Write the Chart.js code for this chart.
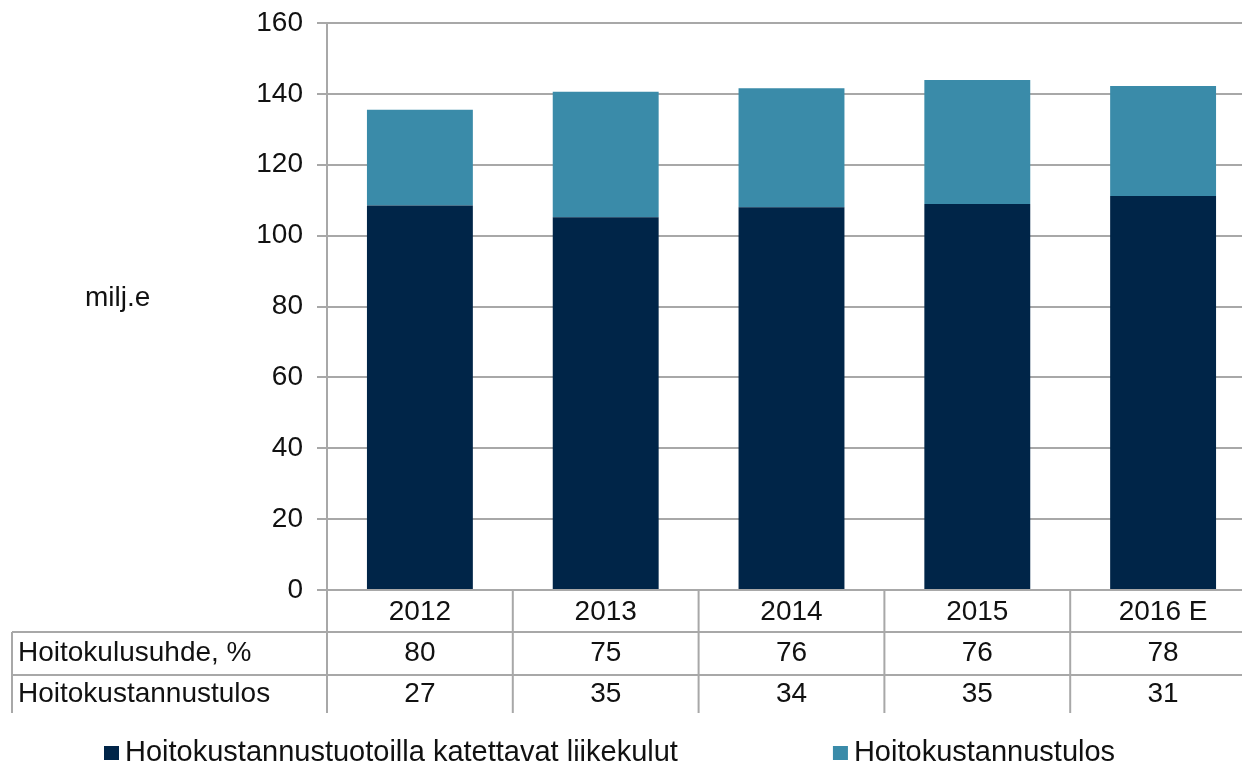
<!DOCTYPE html>
<html>
<head>
<meta charset="utf-8">
<script src="https://cdn.jsdelivr.net/npm/chart.js@4"></script>
<style>
  html, body { margin: 0; padding: 0; background: #fff; overflow: hidden; }
  #wrap { width: 1262px; height: 768px; }
</style>
</head>
<body>
<div id="wrap"><canvas id="kaavio" width="1262" height="768"></canvas></div>
<script>
// Kaavion tiedot
const vuodet = ['2012', '2013', '2014', '2015', '2016 E'];
const liikekulut = [108.5, 105.2, 108.0, 108.9, 111.2];
const tulos = [27.0, 35.4, 33.6, 35.0, 31.0];
const hoitokulusuhde = [80, 75, 76, 76, 78];
const hoitokustannustulos = [27, 35, 34, 35, 31];
const taulukonRivit = ['Hoitokulusuhde, %', 'Hoitokustannustulos'];
const sarjat = ['Hoitokustannustuotoilla katettavat liikekulut', 'Hoitokustannustulos'];
const yMin = 0, yMax = 160, yAskel = 20;

const fontti = '"Liberation Sans", Arial, sans-serif';
const tekstiVari = '#111';
const viivaVari = '#a8a8a8';

// Taulukko, yksikkö ja selite piirretään itse
const taulukkoPlugin = {
  id: 'taulukko',
  afterDraw(chart) {
    const { ctx, chartArea, scales: { x } } = chart;
    const ala = chartArea.bottom;
    const rivi1 = ala + 42, rivi2 = ala + 85, loppu = ala + 123;
    const puoli = (x.getPixelForValue(1) - x.getPixelForValue(0)) / 2;

    ctx.save();
    ctx.strokeStyle = viivaVari;
    ctx.lineWidth = 2;
    ctx.beginPath();
    // pystyviivat
    ctx.moveTo(chartArea.left, ala);
    ctx.lineTo(chartArea.left, loppu);
    for (let i = 0; i < vuodet.length; i++) {
      const xr = x.getPixelForValue(i) + puoli;
      ctx.moveTo(xr, ala);
      ctx.lineTo(xr, loppu);
    }
    ctx.moveTo(12, rivi1);
    ctx.lineTo(12, loppu);
    // vaakaviivat
    ctx.moveTo(12, rivi1);
    ctx.lineTo(chartArea.right, rivi1);
    ctx.moveTo(12, rivi2);
    ctx.lineTo(chartArea.right, rivi2);
    ctx.stroke();

    ctx.fillStyle = tekstiVari;
    ctx.font = '28px ' + fontti;
    ctx.textBaseline = 'middle';
    const y1 = (rivi1 + rivi2) / 2, y2 = (rivi2 + loppu) / 2;
    ctx.textAlign = 'left';
    ctx.fillText(taulukonRivit[0], 18, y1);
    ctx.fillText(taulukonRivit[1], 18, y2);
    ctx.textAlign = 'center';
    vuodet.forEach((v, i) => {
      const xc = x.getPixelForValue(i);
      ctx.fillText(String(hoitokulusuhde[i]), xc, y1);
      ctx.fillText(String(hoitokustannustulos[i]), xc, y2);
    });

    // yksikkö
    ctx.textAlign = 'left';
    ctx.fillText('milj.e', 85, 298);

    // selite
    ctx.font = '29px ' + fontti;
    let lx = 104;
    const ly = 753;
    chart.data.datasets.forEach((ds) => {
      ctx.fillStyle = ds.backgroundColor;
      ctx.fillRect(lx, ly - 7, 15, 14);
      ctx.fillStyle = tekstiVari;
      ctx.fillText(ds.label, lx + 21, ly);
      lx += 21 + ctx.measureText(ds.label).width + 155;
    });
    ctx.restore();
  }
};

new Chart(document.getElementById('kaavio'), {
  type: 'bar',
  data: {
    labels: vuodet,
    datasets: [
      { label: sarjat[0], data: liikekulut, backgroundColor: '#002548' },
      { label: sarjat[1], data: tulos, backgroundColor: '#3a8ba9' }
    ]
  },
  options: {
    responsive: false,
    animation: false,
    layout: { padding: { top: 23, right: 6, bottom: 0, left: 0 } },
    datasets: { bar: { categoryPercentage: 1, barPercentage: 0.57 } },
    plugins: {
      legend: { display: false },
      tooltip: { enabled: false }
    },
    scales: {
      x: {
        stacked: true,
        grid: { display: false, drawTicks: false },
        border: { display: false },
        ticks: { color: tekstiVari, font: { family: fontti, size: 28 }, padding: 5 },
        afterFit: (s) => { s.height = 178; }
      },
      y: {
        stacked: true,
        min: yMin,
        max: yMax,
        grid: { color: viivaVari, lineWidth: 2, tickLength: 10 },
        border: { color: viivaVari, width: 2 },
        ticks: { stepSize: yAskel, color: tekstiVari, font: { family: fontti, size: 28 }, padding: 14 },
        afterFit: (s) => { s.width = 327; s.paddingTop = 0; }
      }
    }
  },
  plugins: [taulukkoPlugin]
});
</script>
</body>
</html>
